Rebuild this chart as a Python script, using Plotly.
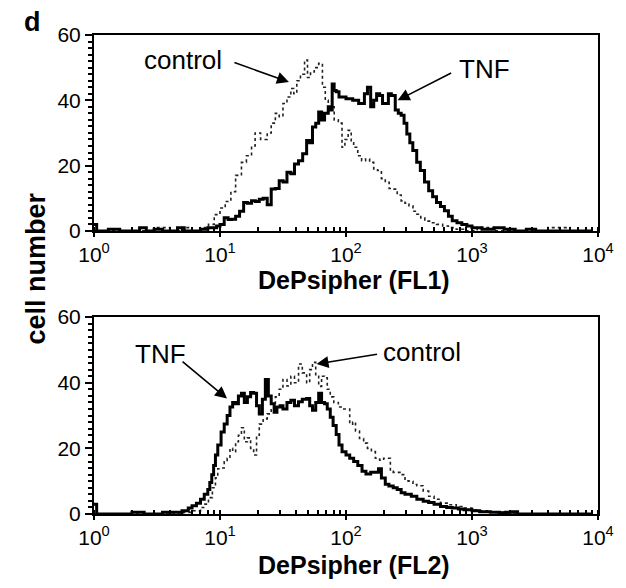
import numpy as np
import plotly.graph_objects as go

# ===== data =====
# top panel (FL1)
FL1_CTRL_X = [1.0, 1.5, 2.2, 3.0, 4.0, 5.0, 6.0, 7.0, 8.1, 9.0,
              10.0, 11.0, 12.2, 13.3, 14.8, 16.2, 17.8, 19.0, 21.0, 23.7,
              25.5, 27.5, 29.5, 31.6, 34.0, 36.5, 38.5, 40.7, 43.5, 46.9,
              49.5, 52.3, 56.0, 60.7, 65.0, 68.5, 72.3, 76.0, 80.6, 86.9,
              93.0, 98.0, 104, 110, 115, 124, 133, 143, 154, 166,
              178, 191, 205, 220, 237, 255, 274, 294, 316, 340,
              365, 392, 422, 470, 523, 585, 649, 750, 900, 1100,
              1500, 2000, 3000, 4000, 6000, 9000]
FL1_CTRL_Y = [0, 0, 0, 1, 0, 1, 0, 1, 2, 5,
              7, 9, 12, 17, 21, 23, 26, 30, 28, 30,
              33, 36, 35, 39, 41, 43.6, 42, 46, 48, 52.3,
              47, 48.7, 50, 51.3, 44, 40, 37, 38, 34, 33,
              25.6, 28, 30.8, 27, 25.6, 23, 21.5, 22, 21, 19,
              18.5, 16, 14.9, 13, 12.8, 11, 9.2, 8.5, 7.7, 6,
              5.1, 4, 3, 2.5, 2, 1.5, 1, 0.5, 0, 1,
              0, 0, 0, 1, 0, 0]

FL1_TNF_X = [1.0, 1.05, 1.3, 1.6, 2.0, 2.3, 2.6, 3.0, 3.5, 4.0,
             4.6, 5.2, 6.0, 7.0, 8.0, 8.7, 9.4, 10.0, 10.8, 11.6,
             12.4, 13.3, 14.3, 15.4, 16.5, 17.8, 19.1, 20.5, 22.0, 23.7,
             25.5, 27.5, 29.5, 31.7, 34.0, 36.5, 39.0, 42.0, 45.3, 48.7,
             51.5, 54.2, 57.5, 60.7, 64.0, 67.6, 72.3, 75.0, 77.7, 80.5,
             83.6, 88.0, 93.0, 100, 107, 113, 119, 126, 133, 140,
             148, 157, 166, 175, 185, 195, 205, 217, 229, 246,
             260, 274, 289, 304, 321, 339, 364, 389, 420, 453,
             487, 523, 562, 604, 650, 697, 760, 830, 910, 1000,
             1200, 1500, 1800, 2200, 2700, 3200, 4000, 6000, 9000]
FL1_TNF_Y = [2, 0, 0.5, 0, 0, 1, 0, 0.5, 0, 0,
             1, 0, 0, 0.5, 1, 1, 1.5, 2, 4, 3.5,
             3.6, 4.5, 6, 8.7, 8.5, 9.2, 9, 9.7, 10, 8,
             12.8, 13, 15.4, 15, 18, 17.5, 20.5, 21.5, 23.6, 27.7,
             27, 31.8, 33, 36.4, 34, 36, 38, 37, 45, 43,
             42.6, 41, 41, 40.5, 40.5, 40, 40, 39, 39, 42,
             44, 38, 40, 42, 41.5, 39, 39, 42, 41.5, 37,
             36, 35.4, 33, 29.7, 27, 24.6, 21, 18.5, 15, 12.3,
             10.5, 8.7, 7.5, 6.2, 4.5, 3.1, 2.5, 2, 1.5, 1,
             0.5, 1, 0.5, 0, 0.5, 0, 0, 0, 0]

# bottom panel (FL2)
FL2_CTRL_X = [1.0, 2.0, 3.0, 4.0, 5.0, 6.0, 7.0, 7.6, 8.1, 8.7,
              9.2, 9.6, 10.2, 10.8, 11.4, 12.0, 12.6, 13.3, 14.0, 14.8,
              15.6, 16.5, 17.5, 18.5, 19.5, 20.5, 22.0, 23.7, 25.5, 27.5,
              29.5, 31.6, 34.0, 36.5, 39.0, 42.0, 45.0, 48.7, 51.5, 54.2,
              57.5, 60.7, 64.0, 67.6, 71.0, 75.0, 80.0, 86.9, 96.0, 107,
              113, 119, 128, 138, 148, 159, 171, 185, 199, 214,
              225, 237, 255, 274, 294, 316, 340, 365, 410, 453,
              500, 562, 650, 750, 870, 1000, 1150, 1333, 1550, 1780,
              2200, 3000, 5000, 9000]
FL2_CTRL_Y = [0, 0, 0, 0, 0.5, 1, 2, 3, 5, 8,
              11, 13.8, 14, 15.9, 17, 20, 19, 22, 24, 26.3,
              22, 23.2, 20, 18, 24, 27.4, 29, 30.5, 32, 35.7,
              38, 41, 39, 42, 40, 45.7, 43, 40, 44, 46.2,
              42, 38.9, 42, 41.5, 38, 35.7, 34, 32.6, 32, 27.4,
              28, 25.3, 23, 21.6, 20, 19, 17, 16.4, 17, 17,
              13, 12.7, 12.7, 12, 10.1, 10, 9, 8.6, 7, 5.4,
              4.5, 3.3, 2.8, 2.3, 1.8, 1.3, 1, 0.7, 0.5, 0.2,
              0, 0, 0, 0]

FL2_TNF_X = [1.0, 1.05, 1.5, 2.0, 2.5, 3.0, 3.5, 4.0, 4.5, 5.0,
             5.6, 6.0, 6.5, 7.0, 7.5, 8.0, 8.3, 8.6, 8.9, 9.2,
             9.6, 10.2, 10.8, 11.4, 12.0, 12.6, 13.3, 14.0, 14.8, 15.6,
             16.5, 17.5, 18.5, 19.5, 20.5, 21.7, 22.9, 24.2, 25.5, 26.9,
             28.3, 30.0, 31.6, 34.0, 36.5, 39.0, 42.0, 45.0, 48.7, 51.5,
             54.2, 57.5, 60.7, 64.0, 67.6, 71.0, 75.0, 79.0, 83.6, 88.0,
             93.0, 100, 107, 115, 124, 134, 144, 157, 171, 181,
             191, 205, 219, 237, 255, 274, 294, 330, 365, 410,
             453, 500, 562, 630, 697, 780, 865, 1000, 1150, 1400,
             1650, 1850, 2050, 2300, 3000, 5000, 9000]
FL2_TNF_Y = [3, 0, 0, 0.5, 0, 0, 0.5, 0.5, 0.5, 1,
             1.8, 2.5, 3.3, 4.5, 6, 7.5, 9.6, 12, 14.8, 18,
             21, 25, 27.4, 30, 32.6, 34, 33.6, 36, 36.8, 34,
             35.7, 37, 36.8, 33, 30.5, 35, 41, 36, 33.6, 31,
             32.6, 33, 32, 34, 34.7, 33, 34.2, 35, 35.2, 33,
             31.6, 34, 36.8, 34, 33.6, 32, 29.5, 27, 24.2, 21,
             19, 18, 17, 16, 14.8, 13, 12.2, 12.7, 12.7, 13.8,
             11, 9.1, 8.5, 8, 7.5, 6.5, 6, 5.4, 4.5, 3.9,
             3.5, 3, 2.3, 2, 1.8, 1.5, 1.3, 1, 0.7, 0.5,
             0.4, 0.5, 0.7, 0, 0, 0, 0]

X_TICKS = [1, 10, 100, 1000, 10000]
X_TICKTEXT = ["10<sup>0</sup>", "10<sup>1</sup>", "10<sup>2</sup>", "10<sup>3</sup>", "10<sup>4</sup>"]
Y_TICKS = [0, 20, 40, 60]

FONT = "Liberation Sans, Arial, sans-serif"

fig = go.Figure()

# control = dotted, TNF = thick solid, both stepped histograms
for cx, cy, tx, ty, xa, ya in [
    (FL1_CTRL_X, FL1_CTRL_Y, FL1_TNF_X, FL1_TNF_Y, "x", "y"),
    (FL2_CTRL_X, FL2_CTRL_Y, FL2_TNF_X, FL2_TNF_Y, "x2", "y2"),
]:
    fig.add_trace(go.Scatter(x=cx, y=cy, mode="lines", line_shape="hv",
                             line=dict(color="#222222", width=1.6, dash="dot"),
                             xaxis=xa, yaxis=ya, name="control"))
    fig.add_trace(go.Scatter(x=tx, y=ty, mode="lines", line_shape="hv",
                             line=dict(color="black", width=3),
                             xaxis=xa, yaxis=ya, name="TNF"))

xcommon = dict(
    type="log", range=[0, 4],
    tickvals=X_TICKS, ticktext=X_TICKTEXT,
    ticks="outside", ticklen=4, tickwidth=2, tickcolor="black",
    showline=True, linewidth=2, linecolor="black", mirror=True,
    showgrid=False, zeroline=False,
    tickfont=dict(family=FONT, size=21, color="black"),
    minor=dict(ticks="inside", ticklen=4, tickwidth=1.5, tickcolor="black", dtick="D1", showgrid=False),
)
ycommon = dict(
    range=[0, 60], tickvals=Y_TICKS,
    ticks="outside", ticklen=7, tickwidth=2, tickcolor="black",
    showline=True, linewidth=2, linecolor="black", mirror=True,
    showgrid=False, zeroline=False,
    tickfont=dict(family=FONT, size=21, color="black"),
    minor=dict(ticks="outside", ticklen=4, tickwidth=1.5, tickcolor="black", dtick=2, showgrid=False),
)

# the page adds an 8px body margin, so the figure is 8px smaller than the window
fig.update_layout(
    width=618, height=580,
    margin=dict(l=86, r=19, t=27, b=74),
    paper_bgcolor="white", plot_bgcolor="white",
    showlegend=False,
    font=dict(family=FONT, color="black"),
    xaxis=dict(xcommon, domain=[0, 1], anchor="y"),
    yaxis=dict(ycommon, domain=[0.591, 1], anchor="x"),
    xaxis2=dict(xcommon, domain=[0, 1], anchor="y2"),
    yaxis2=dict(ycommon, domain=[0, 0.411], anchor="x2"),
)

# axis titles and panel letter
bold = dict(family=FONT, size=25, color="black")
center = dict(xanchor="center", yanchor="middle", showarrow=False)
fig.add_annotation(text="<b>DePsipher (FL1)</b>", xref="paper", yref="paper",
                   x=0.515, y=0.4885, font=bold, **center)
fig.add_annotation(text="<b>DePsipher (FL2)</b>", xref="paper", yref="paper",
                   x=0.515, y=-0.1065, font=bold, **center)
fig.add_annotation(text="<b>cell number</b>", xref="paper", yref="paper",
                   x=-0.117, y=0.5125, textangle=-90,
                   font=dict(family=FONT, size=27, color="black"), **center)
fig.add_annotation(text="<b>d</b>", xref="paper", yref="paper",
                   x=-0.123, y=1.027,
                   font=dict(family=FONT, size=27, color="black"), **center)

# labels with arrows (x in log10 units for log axes)
lab = dict(family=FONT, size=26, color="black")
arrow = dict(showarrow=True, arrowhead=2, arrowsize=1.5, arrowwidth=1.6, arrowcolor="black", text="")

fig.add_annotation(text="control", x=0.71, y=52.3, xref="x", yref="y", font=lab, **center)
fig.add_annotation(x=1.547, y=45.6, xref="x", yref="y", ax=-56, ay=-20, **arrow)
fig.add_annotation(text="TNF", x=3.1, y=49.7, xref="x", yref="y", font=lab, **center)
fig.add_annotation(x=2.41, y=40, xref="x", yref="y", ax=55, ay=-28, **arrow)

fig.add_annotation(text="TNF", x=0.53, y=48.8, xref="x2", yref="y2", font=lab, **center)
fig.add_annotation(x=1.056, y=35.2, xref="x2", yref="y2", ax=-46, ay=-38, **arrow)
fig.add_annotation(text="control", x=2.6, y=49.3, xref="x2", yref="y2", font=lab, **center)
fig.add_annotation(x=1.766, y=45.7, xref="x2", yref="y2", ax=62, ay=-10, **arrow)

fig.write_html("out.html")
